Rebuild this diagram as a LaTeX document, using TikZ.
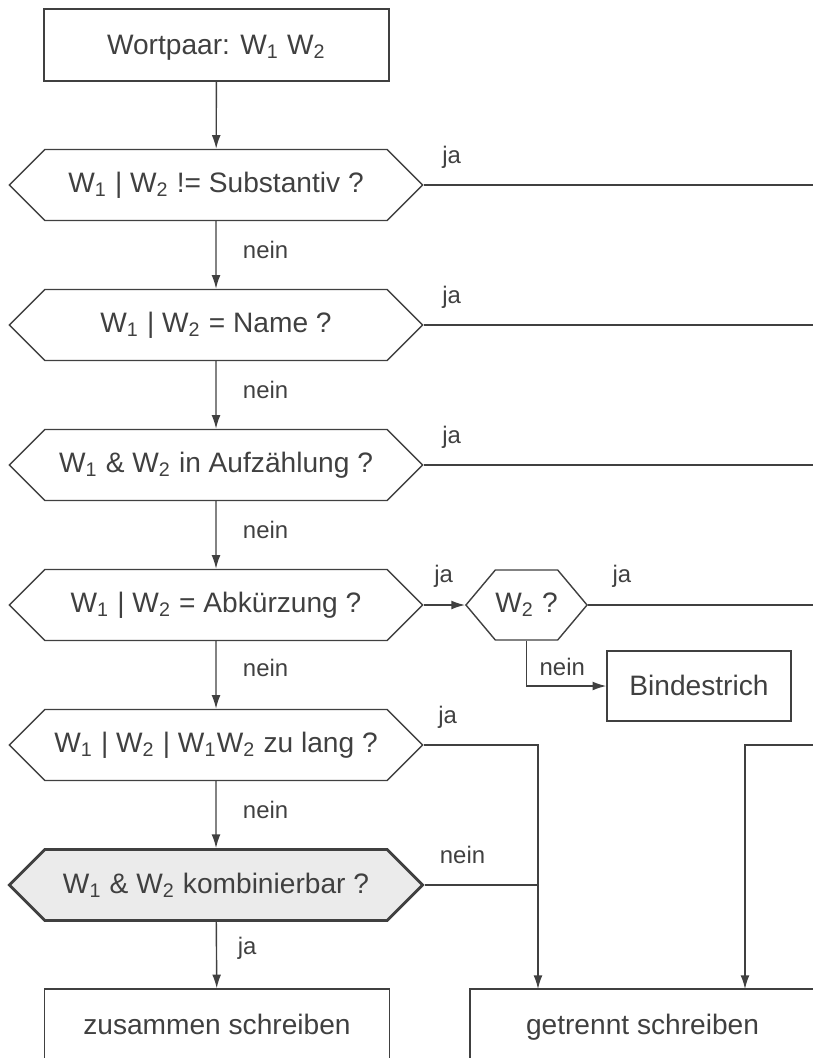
\documentclass[tikz,border=0pt]{standalone}
\usepackage{fontspec}
\setmainfont{Liberation Sans}
\usetikzlibrary{arrows.meta,shapes.symbols}

\definecolor{ink}{HTML}{404040}
\definecolor{hell}{HTML}{EBEBEB}

\begin{document}
\begin{tikzpicture}[x=0.0125cm,y=-0.0125cm,>={Latex[length=1.7mm,width=1.1mm]},
  color=ink,line width=0.5pt,font=\fontsize{10}{12}\selectfont,
  box/.style={draw,rectangle,minimum width=4.3125cm,minimum height=0.9cm,
    text height=1.8ex,text depth=0.5ex},
  frage/.style={draw,signal,signal to=west and east,signal pointer angle=90,
    minimum width=5.1625cm,minimum height=0.8875cm,inner sep=0pt},
  lbl/.style={font=\fontsize{8.5}{10}\selectfont}]
  \useasboundingbox (0,0) rectangle (813,1058);
  \clip (0,0) rectangle (813,1058);
  % Knoten
  \node[box] (start) at (216.5,45) {Wortpaar: W\textsubscript{1} W\textsubscript{2}};
  \node[frage] (h1) at (216,185) {W\textsubscript{1} | W\textsubscript{2} != Substantiv ?};
  \node[frage] (h2) at (216,325) {W\textsubscript{1} | W\textsubscript{2} = Name ?};
  \node[frage] (h3) at (216,465) {W\textsubscript{1} \& W\textsubscript{2} in Aufzählung ?};
  \node[frage] (h4) at (216,605) {W\textsubscript{1} | W\textsubscript{2} = Abkürzung ?};
  \node[frage] (h5) at (216,745) {W\textsubscript{1} | W\textsubscript{2} | W\textsubscript{1}W\textsubscript{2} zu lang ?};
  \node[frage,fill=hell,line width=1pt] (h6) at (216,885) {W\textsubscript{1} \& W\textsubscript{2} kombinierbar ?};
  \node[frage,signal pointer angle=100,minimum width=1.4125cm,minimum height=0.875cm] (w2) at (526.5,605) {W\textsubscript{2} ?};
  \node[box,minimum width=2.3cm,minimum height=0.875cm] (bind) at (699,686) {Bindestrich};
  \node[box] (zus) at (217,1025) {zusammen schreiben};
  \node[box] (getr) at (642.5,1025) {getrennt schreiben};
  % Hilfspunkte
  \coordinate (e1) at (830,185);
  \coordinate (e2) at (830,325);
  \coordinate (e3) at (830,465);
  \coordinate (e4) at (830,605);
  \coordinate (e5) at (830,745);
  \coordinate (jx) at (538,989);
  \coordinate (kx) at (745,989);
  % Verbindungen
  \draw[->] (start) -- (h1);
  \draw[->] (h1) -- node[lbl,anchor=west,pos=0.43,xshift=6pt] {nein} (h2);
  \draw[->] (h2) -- node[lbl,anchor=west,pos=0.43,xshift=6pt] {nein} (h3);
  \draw[->] (h3) -- node[lbl,anchor=west,pos=0.43,xshift=6pt] {nein} (h4);
  \draw[->] (h4) -- node[lbl,anchor=west,pos=0.4,xshift=6pt] {nein} (h5);
  \draw[->] (h5) -- node[lbl,anchor=west,pos=0.43,xshift=6pt] {nein} (h6);
  \draw[->] (h6) -- node[lbl,anchor=west,pos=0.4,xshift=4pt] {ja} (zus);
  \draw (h1.east) -- (e1);
  \draw (h2.east) -- (e2);
  \draw (h3.east) -- (e3);
  \draw[->] (h4.east) -- (w2.west);
  \draw (w2.east) -- (e4);
  \draw[->] (w2.south) |- (bind.west);
  \draw[->] (h5.east) -| (jx);
  \draw (h6.east) -- (h6.east -| jx);
  \draw[->] (e5) -| (kx);
  % Beschriftungen
  \node[lbl] (ja1) at ([shift={(28,-28)}]h1.east) {ja};
  \node[lbl] (ja2) at ([shift={(28,-28)}]h2.east) {ja};
  \node[lbl] (ja3) at ([shift={(28,-28)}]h3.east) {ja};
  \node[lbl] (ja4) at ([shift={(20,-29)}]h4.east) {ja};
  \node[lbl] (ja5) at ([shift={(34,-29)}]w2.east) {ja};
  \node[lbl] (nein5) at ([shift={(-44,-19)}]bind.west) {nein};
  \node[lbl] (ja6) at ([shift={(24,-28)}]h5.east) {ja};
  \node[lbl] (nein6) at ([shift={(38,-30)}]h6.east) {nein};
\end{tikzpicture}
\end{document}
